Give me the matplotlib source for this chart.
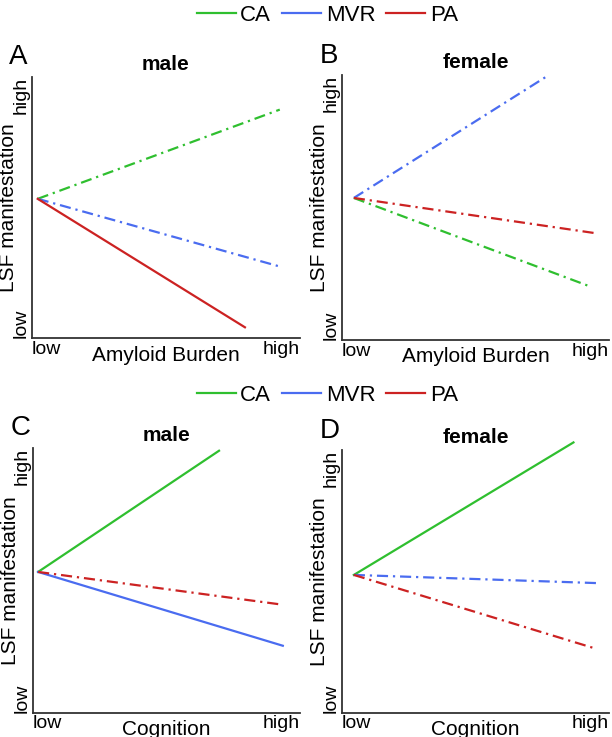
import matplotlib.pyplot as plt
from matplotlib.lines import Line2D

plt.rcParams['font.family'] = ['Liberation Sans', 'DejaVu Sans']

groups = ['CA', 'MVR', 'PA']
colors = {'CA': '#2fbf2f', 'MVR': '#4a6cf0', 'PA': '#cc2222'}

# each panel: common start point, end points per group, significance (solid) flags
panel_letters = ['A', 'B', 'C', 'D']
panel_titles = ['male', 'female', 'male', 'female']
panel_xlabels = ['Amyloid Burden', 'Amyloid Burden', 'Cognition', 'Cognition']
start_x = [0.022, 0.044, 0.019, 0.044]
start_y = [0.533, 0.536, 0.532, 0.525]
end_x = [[0.925, 0.933, 0.795],
         [0.933, 0.774, 0.948],
         [0.697, 0.936, 0.936],
         [0.867, 0.952, 0.941]]
end_y = [[0.874, 0.272, 0.042],
         [0.200, 1.000, 0.403],
         [0.990, 0.253, 0.408],
         [1.030, 0.494, 0.247]]
solid = [[False, False, True],
         [False, False, False],
         [True, True, False],
         [True, False, False]]

dashdot = (0, (5, 2.2, 1, 2.2))

fig = plt.figure(figsize=(6.12, 7.37), dpi=100)
rects = [[0.052, 0.541, 0.438, 0.355],
         [0.559, 0.539, 0.436, 0.359],
         [0.054, 0.033, 0.436, 0.359],
         [0.559, 0.033, 0.436, 0.356]]

for i, r in enumerate(rects):
    ax = fig.add_axes(r)
    for j, g in enumerate(groups):
        ax.plot([start_x[i], end_x[i][j]], [start_y[i], end_y[i][j]],
                color=colors[g], lw=1.6,
                linestyle='-' if solid[i][j] else dashdot, clip_on=False)
    ax.set_xlim(0, 1)
    ax.set_ylim(0, 1)
    for s in ['top', 'right']:
        ax.spines[s].set_visible(False)
    for s in ['left', 'bottom']:
        ax.spines[s].set_linewidth(1.3)
        ax.spines[s].set_color('#333333')
    ax.set_xticks([0, 1], ['low', 'high'], fontsize=14)
    ax.set_yticks([0, 1], ['low', 'high'], fontsize=14, rotation=90)
    ax.tick_params(length=0, pad=2)
    xl = ax.get_xticklabels()
    xl[0].set_ha('left')
    xl[1].set_ha('right')
    yl = ax.get_yticklabels()
    yl[0].set_va('bottom')
    yl[1].set_va('top')
    for t in yl:
        t.set_ha('center')
    ax.tick_params(axis='y', pad=8)
    ax.set_xlabel(panel_xlabels[i], fontsize=15)
    ax.xaxis.set_label_coords(0.5, -0.028)
    ax.set_ylabel('LSF manifestation', fontsize=15)
    ax.yaxis.set_label_coords(-0.05, 0.5)
    ax.set_title(panel_titles[i], fontsize=15, fontweight='bold', pad=5)
    ax.text(-0.085, 1.025, panel_letters[i], transform=ax.transAxes,
            fontsize=20, ha='left', va='bottom')

handles = [Line2D([0], [0], color=colors[g], lw=1.6) for g in groups]
for yy in [0.979, 0.464]:
    fig.legend(handles, groups, loc='center', bbox_to_anchor=(0.535, yy),
               ncol=3, frameon=False, fontsize=16, handlelength=1.75,
               handletextpad=0.2, columnspacing=0.5)

fig.savefig('out.png', dpi=100)
